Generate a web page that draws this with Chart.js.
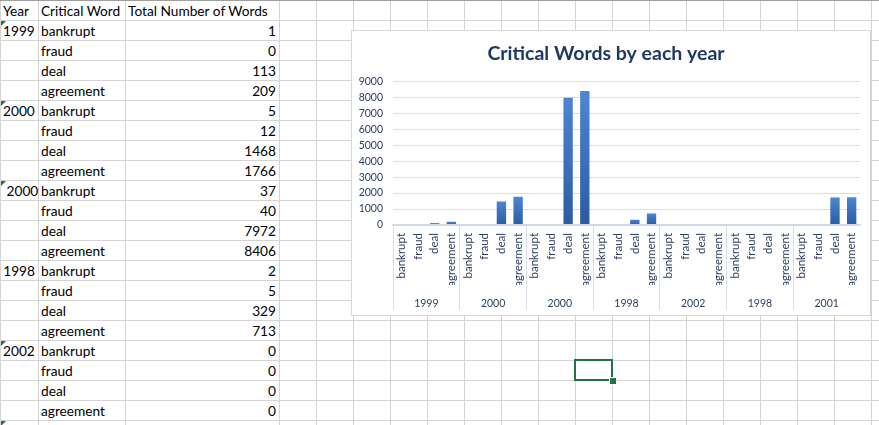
<!DOCTYPE html>
<html>
<head>
<meta charset="utf-8">
<script src="https://cdn.jsdelivr.net/npm/chart.js@4.4.1/dist/chart.umd.min.js"></script>
<style>
html,body{margin:0;padding:0;background:#fff;}
#sheet{position:relative;width:879px;height:425px;overflow:hidden;font-family:Lato,"Liberation Sans",sans-serif;font-size:13.7px;color:#000;}
.hl{position:absolute;left:0;width:879px;height:1px;background:#d4d4d4;}
.vl{position:absolute;top:0;height:425px;width:1px;background:#d4d4d4;}
.cell{position:absolute;height:20px;line-height:22px;white-space:pre;}
.tri{position:absolute;width:0;height:0;border-top:5px solid #217346;border-right:5px solid transparent;}
#topline{position:absolute;left:0;top:0;width:879px;height:1px;background:#9e9e9e;}
#chartBox{position:absolute;left:351px;top:30px;width:520px;height:286px;background:#fff;border:1px solid #d9d9d9;box-sizing:border-box;}
#chartWrap{position:relative;width:518px;height:284px;}
#sel{position:absolute;left:574px;top:359px;width:39px;height:22px;border:2px solid #217346;box-sizing:border-box;}
#handle{position:absolute;left:609px;top:377px;width:6px;height:6px;background:#217346;border:1px solid #fff;}
</style>
</head>
<body>
<div id="sheet">
  <div id="chartBox"><div id="chartWrap"><canvas id="chart"></canvas></div></div>
  <div id="sel"></div><div id="handle"></div>
</div>
<script>
// sheet contents
const YEARS = ["1999", "2000", " 2000", "1998", "2002", "1998", "2001"];
const YEAR_IS_TEXT = [true, true, true, false, true, true, true];
const WORDS = ["bankrupt", "fraud", "deal", "agreement"];
const HEADERS = ["Year", "Critical Word", "Total Number of Words"];

// counts per year group (last two groups)
const counts1999 = [1, 0, 113, 209];
const counts2000a = [5, 12, 1468, 1766];
const counts2000b = [37, 40, 7972, 8406];
const counts1998a = [2, 5, 329, 713];
const counts2002 = [0, 0, 0, 0];
const counts1998b = [0, 0, 0, 0];
const counts2001 = [9, 14, 1728, 1733];
const GROUPS = [counts1999, counts2000a, counts2000b, counts1998a, counts2002, counts1998b, counts2001];

const Y_TICKS_MAX = 9000;
const Y_STEP = 1000;
const TITLE = "Critical Words by each year";

// grid geometry
const COL_EDGES = [0, 38, 125, 279];
for (let k = 1; k <= 17; k++) COL_EDGES.push(279 + 37 * k);
const ROW_H = 20;

const sheet = document.getElementById("sheet");
const chartBox = document.getElementById("chartBox");

function addEl(cls, style, text){
  const d = document.createElement("div");
  d.className = cls;
  Object.assign(d.style, style);
  if(text != null) d.textContent = text;
  sheet.insertBefore(d, chartBox);
  return d;
}

// gridlines
for (let r = 1; r <= 22; r++) addEl("hl", { top: (r * ROW_H) + "px" });
COL_EDGES.forEach(x => addEl("vl", { left: x + "px" }));
addEl("", {}, null).id = "topline";

// cell text
function putCell(row, col, text, align){
  const left = COL_EDGES[col] + 3, right = COL_EDGES[col + 1] - 3;
  const st = { top: (row * ROW_H) + "px" };
  if(align === "right"){ st.left = left + "px"; st.width = (right - left) + "px"; st.textAlign = "right"; }
  else st.left = left + "px";
  addEl("cell", st, text);
}

HEADERS.forEach((h, i) => putCell(0, i, h, "left"));
let row = 1;
GROUPS.forEach((vals, g) => {
  vals.forEach((v, i) => {
    if(i === 0){
      putCell(row, 0, YEARS[g], YEAR_IS_TEXT[g] ? "left" : "right");
      if(YEAR_IS_TEXT[g]) addEl("tri", { left: "1px", top: (row * ROW_H + 1) + "px" });
    }
    putCell(row, 1, WORDS[i], "left");
    putCell(row, 2, String(v), "right");
    row++;
  });
});

// chart
const labels = [];
const values = [];
GROUPS.forEach(vals => vals.forEach((v, i) => { labels.push(WORDS[i]); values.push(v); }));

const TEXT_COLOR = "#2b3f5f";
const GRID_COLOR = "#d8dee8";
const FONT = "Lato";

function barFill(ctx){
  const chart = ctx.chart;
  if(!chart.chartArea || ctx.type !== "data") return "#3a6fbd";
  const ys = chart.scales.y;
  const top = ys.getPixelForValue(ctx.raw), base = ys.getPixelForValue(0);
  if(base - top < 2) return "#2d5ea6";
  const g = chart.ctx.createLinearGradient(0, top, 0, base);
  g.addColorStop(0, "#4d86d2");
  g.addColorStop(1, "#2b5ba2");
  return g;
}

new Chart(document.getElementById("chart"), {
  type: "bar",
  data: {
    labels,
    datasets: [{ data: values, backgroundColor: barFill, borderWidth: 0,
      categoryPercentage: 1, barPercentage: 0.56 }]
  },
  options: {
    responsive: true,
    maintainAspectRatio: false,
    animation: false,
    layout: { padding: { left: 0, right: 10, top: 0, bottom: 5 } },
    plugins: {
      legend: { display: false },
      tooltip: { enabled: false },
      title: { display: true, text: TITLE, color: "#1f3864",
        font: { family: FONT, size: 19.5, weight: "bold" },
        padding: { top: 11.5, bottom: 15.5 } }
    },
    scales: {
      y: {
        min: 0, max: Y_TICKS_MAX,
        ticks: { stepSize: Y_STEP, color: TEXT_COLOR, padding: 10,
          font: { family: FONT, size: 10.5 }, callback: v => String(v) },
        grid: { color: GRID_COLOR, drawTicks: false },
        border: { display: false },
        afterFit: s => { s.width = 41; }
      },
      x: {
        offset: true,
        ticks: { minRotation: 90, maxRotation: 90, autoSkip: false, padding: -77,
          color: TEXT_COLOR, font: { family: FONT, size: 11.5 } },
        grid: { drawOnChartArea: false, tickLength: 85,
          color: c => (c.index % 4 === 0 ? GRID_COLOR : "rgba(0,0,0,0)") },
        border: { display: true, color: "#d2d9e4", width: 1.5, z: 1 },
        afterFit: s => { s.height = 60; }
      },
      x2: {
        type: "category",
        position: "bottom",
        weight: 1,
        labels: YEARS.map(y => y.trim()),
        offset: true,
        ticks: { padding: 12.5, color: TEXT_COLOR, font: { family: FONT, size: 10.5 } },
        grid: { display: false, drawTicks: false },
        border: { display: false },
        afterFit: s => { s.height = 25; }
      }
    }
  }
});
</script>
</body>
</html>
